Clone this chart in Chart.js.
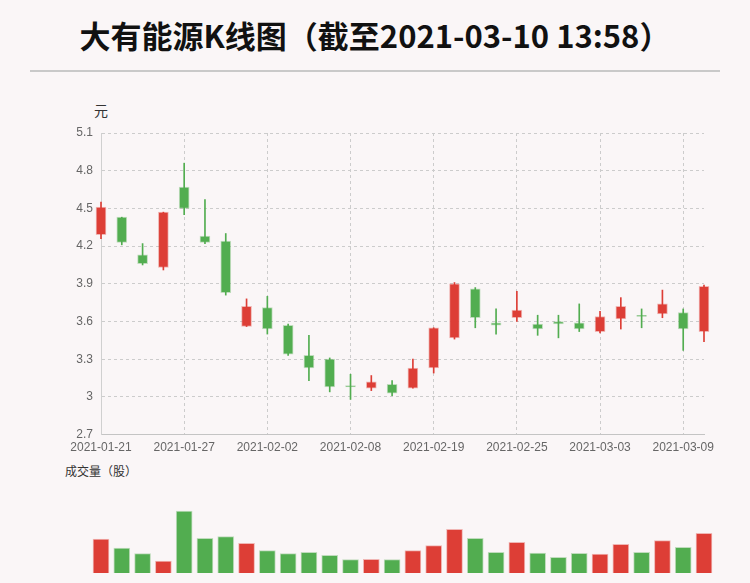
<!DOCTYPE html>
<html>
<head>
<meta charset="utf-8">
<script src="https://cdn.jsdelivr.net/npm/chart.js@4.4.1/dist/chart.umd.min.js"></script>
<style>
    body {
        margin: 0;
        width: 750px;
        height: 583px;
        overflow: hidden;
        position: relative;
        background: #faf6f7;
        font-family: "Noto Sans CJK SC", "Liberation Sans", sans-serif;
    }
    #title {
        position: absolute;
        left: 0;
        top: 13px;
        width: 750px;
        text-align: center;
        font-size: 31px;
        font-weight: bold;
        color: #111;
        line-height: 44px;
    }
    #line {
        position: absolute;
        left: 30px;
        top: 70px;
        width: 690px;
        height: 2px;
        background: #c9c9c9;
    }
    #unit {
        position: absolute;
        left: 94px;
        top: 100px;
        font-size: 14px;
        color: #333;
    }
    #volLabel {
        position: absolute;
        left: 65px;
        top: 462px;
        font-size: 12px;
        color: #333;
    }
    #kWrap {
        position: absolute;
        left: 0;
        top: 90px;
        width: 750px;
        height: 378px;
    }
    #vWrap {
        position: absolute;
        left: 0;
        top: 480px;
        width: 750px;
        height: 100px;
    }
</style>
</head>
<body>
<div id="title">大有能源K线图（截至2021-03-10 13:58）</div>
<div id="line"></div>
<div id="unit">元</div>
<div id="volLabel">成交量（股）</div>
<div id="kWrap"><canvas id="kChart"></canvas></div>
<div id="vWrap"><canvas id="volChart"></canvas></div>

<script>
var dates = [
    "2021-01-21", "2021-01-22", "2021-01-25", "2021-01-26", "2021-01-27",
    "2021-01-28", "2021-01-29", "2021-02-01", "2021-02-02", "2021-02-03",
    "2021-02-04", "2021-02-05", "2021-02-08", "2021-02-09", "2021-02-10",
    "2021-02-18", "2021-02-19", "2021-02-22", "2021-02-23", "2021-02-24",
    "2021-02-25", "2021-02-26", "2021-03-01", "2021-03-02", "2021-03-03",
    "2021-03-04", "2021-03-05", "2021-03-08", "2021-03-09", "2021-03-10"
];
var opens = [4.29, 4.43, 4.13, 4.03, 4.67, 4.28, 4.24, 3.56, 3.71, 3.57,
             3.33, 3.30, 3.09, 3.07, 3.10, 3.07, 3.23, 3.47, 3.86, 3.59,
             3.63, 3.58, 3.60, 3.59, 3.52, 3.62, 3.65, 3.66, 3.67, 3.52];
var closes = [4.51, 4.23, 4.06, 4.47, 4.50, 4.23, 3.83, 3.72, 3.54, 3.34,
              3.23, 3.08, 3.08, 3.12, 3.03, 3.23, 3.55, 3.90, 3.63, 3.57,
              3.69, 3.54, 3.58, 3.54, 3.64, 3.72, 3.64, 3.74, 3.54, 3.88];
var highs = [4.55, 4.43, 4.22, 4.47, 4.86, 4.57, 4.30, 3.78, 3.80, 3.58,
             3.49, 3.31, 3.18, 3.17, 3.13, 3.30, 3.55, 3.91, 3.87, 3.70,
             3.84, 3.65, 3.65, 3.74, 3.68, 3.79, 3.70, 3.85, 3.70, 3.89];
var lows = [4.26, 4.21, 4.05, 4.01, 4.45, 4.22, 3.81, 3.56, 3.50, 3.33,
            3.13, 3.04, 2.98, 3.05, 3.01, 3.07, 3.19, 3.46, 3.55, 3.50,
            3.60, 3.49, 3.47, 3.52, 3.51, 3.54, 3.55, 3.63, 3.37, 3.44];
var volumes = [10200000, 7500000, 5800000, 3600000, 18600000, 10400000, 10900000, 8900000, 6700000, 5800000,
               6200000, 5300000, 4000000, 4100000, 4000000, 6700000, 8200000, 13100000, 10400000, 6200000,
               9200000, 6000000, 4700000, 5900000, 5700000, 8600000, 6200000, 9700000, 7700000, 11900000];
var yTicks = [2.7, 3.0, 3.3, 3.6, 3.9, 4.2, 4.5, 4.8, 5.1];

var RED = "#dd3e36";
var GREEN = "#52ad50";
var RED_EDGE = "rgba(221, 62, 54, 0.35)";
var GREEN_EDGE = "rgba(82, 173, 80, 0.35)";

var colores = closes.map(function (c, i) { return c > opens[i] ? RED : GREEN; });
var bordes = closes.map(function (c, i) { return c > opens[i] ? RED_EDGE : GREEN_EDGE; });

var cuerpos = opens.map(function (o, i) { return [o, closes[i]]; });
var mechas = lows.map(function (l, i) { return [l, highs[i]]; });

// grafico de velas
var ctxK = document.getElementById("kChart").getContext("2d");
var kChart = new Chart(ctxK, {
    type: "bar",
    data: {
        labels: dates,
        datasets: [
            {
                data: cuerpos,
                backgroundColor: colores,
                borderColor: bordes,
                borderWidth: 1,
                borderSkipped: false,
                barThickness: 10,
                grouped: false,
                clip: false,
            },
            {
                data: mechas,
                backgroundColor: colores,
                borderWidth: 0,
                barThickness: 1,
                grouped: false,
                clip: false,
            },
        ],
    },
    options: {
        responsive: true,
        maintainAspectRatio: false,
        animation: false,
        layout: { padding: { top: 43, bottom: 7, left: 0, right: 46 } },
        plugins: { legend: { display: false }, tooltip: { enabled: false } },
        scales: {
            x: {
                type: "category",
                offset: false,
                grid: {
                    offset: false,
                    drawTicks: false,
                    color: function (c) { return c.index % 4 === 0 ? "#cccccc" : "transparent"; },
                },
                border: { color: "#c4c4c4", width: 1, dash: [3, 3] },
                ticks: {
                    autoSkip: false,
                    maxRotation: 0,
                    padding: 6,
                    color: "#666",
                    font: { size: 12, family: "'Liberation Sans', Arial, sans-serif" },
                    callback: function (v, i) { return i % 4 === 0 ? dates[i] : ""; },
                },
            },
            y: {
                min: 2.7,
                max: 5.1,
                afterBuildTicks: function (axis) {
                    axis.ticks = yTicks.map(function (v) { return { value: v }; });
                },
                afterFit: function (axis) { axis.width = 101; },
                grid: { drawTicks: false, color: "#cccccc" },
                border: { color: "#d0d0d0", width: 1, dash: [3, 3] },
                ticks: {
                    padding: 8,
                    color: "#666",
                    font: { size: 12, family: "'Liberation Sans', Arial, sans-serif" },
                    callback: function (v) { return String(Number(v.toFixed(1))); },
                },
            },
        },
    },
});

// grafico de volumen
var ctxV = document.getElementById("volChart").getContext("2d");
var volChart = new Chart(ctxV, {
    type: "bar",
    data: {
        labels: dates,
        datasets: [
            {
                data: volumes,
                backgroundColor: colores,
                borderColor: bordes,
                borderWidth: 1,
                borderSkipped: "bottom",
                barThickness: 16,
                clip: false,
            },
        ],
    },
    options: {
        responsive: true,
        maintainAspectRatio: false,
        animation: false,
        layout: { padding: { top: 10, bottom: 7, left: 101, right: 46 } },
        plugins: { legend: { display: false }, tooltip: { enabled: false } },
        scales: {
            x: { type: "category", offset: false, display: false },
            y: { min: 0, max: 24900000, display: false },
        },
    },
});
</script>
</body>
</html>
